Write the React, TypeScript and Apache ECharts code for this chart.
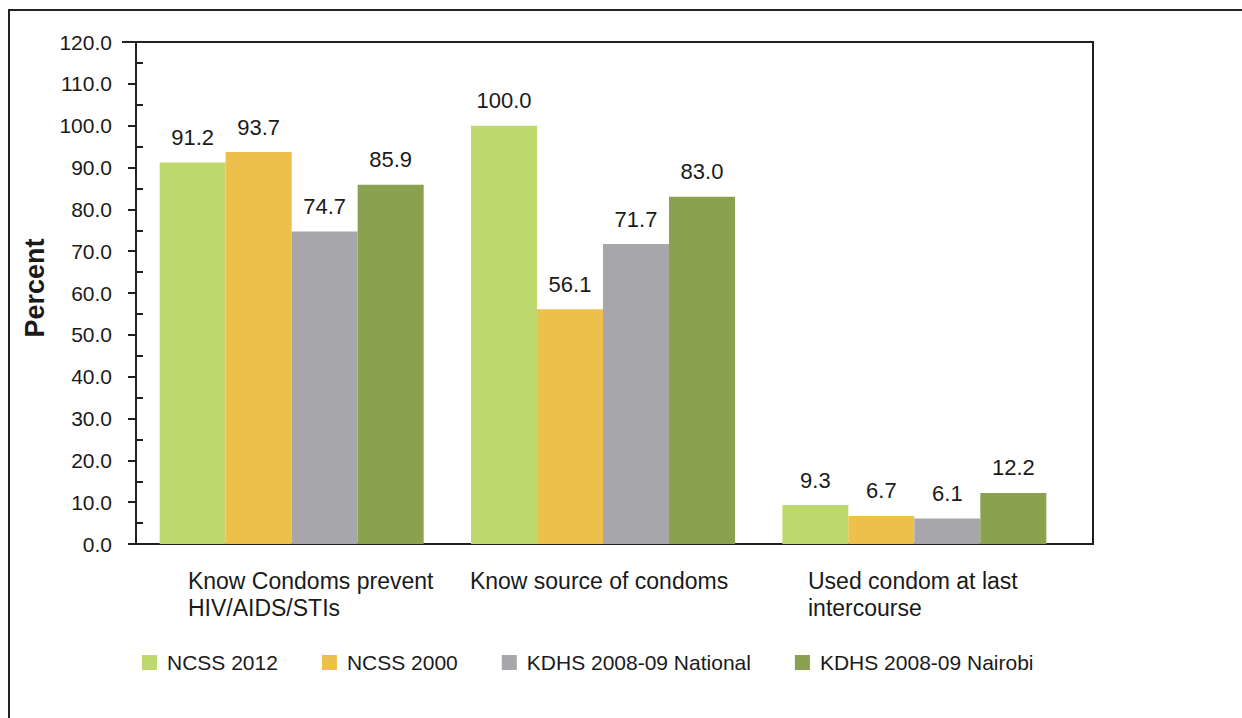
import { useEffect, useRef } from "react";
import * as echarts from "echarts";

const categories = [
  "Know Condoms prevent\nHIV/AIDS/STIs",
  "Know source of condoms",
  "Used condom at last\nintercourse",
];
const seriesNames = ["NCSS 2012", "NCSS 2000", "KDHS 2008-09 National", "KDHS 2008-09 Nairobi"];
const ncss2012 = [91.2, 100.0, 9.3];
const ncss2000 = [93.7, 56.1, 6.7];
const kdhsNational = [74.7, 71.7, 6.1];
const kdhsNairobi = [85.9, 83.0, 12.2];
const minorTickValues = [5, 15, 25, 35, 45, 55, 65, 75, 85, 95, 105, 115];
const yMin = 0;
const yMax = 120;
const yInterval = 10;

const colors = ["#BDD96E", "#EDC04C", "#A7A6AA", "#8AA150"];
const FONT = "'Liberation Sans', Arial, Helvetica, sans-serif";
const INK = "#1a1a1a";
const LINE = "#231f20";

export default function App() {
  const ref = useRef<HTMLDivElement>(null);
  useEffect(() => {
    if (!ref.current) return;
    const chart = echarts.init(ref.current, undefined, { renderer: "svg" });
    const allSeries = [ncss2012, ncss2000, kdhsNational, kdhsNairobi];
    const pads = [[0, 0, 0, 38], [0, 8, 0, 0], [0, 3, 0, 0]];
    const rich: Record<string, any> = {};
    pads.forEach((p, i) => {
      rich["c" + i] = { padding: p, align: "left", fontSize: 23, lineHeight: 27, color: INK, fontFamily: FONT };
    });
    chart.setOption({
      animation: false,
      backgroundColor: "#ffffff",
      textStyle: { fontFamily: FONT },
      color: colors,
      grid: { left: 136, top: 42, right: 172, bottom: 174, containLabel: false },
      legend: {
        left: 142,
        top: 652,
        padding: 0,
        itemWidth: 15,
        itemHeight: 15,
        itemGap: 44,
        icon: "rect",
        textStyle: { fontSize: 21, color: INK, fontFamily: FONT, padding: [0, 0, 0, 5] },
        data: seriesNames,
      },
      xAxis: {
        type: "category",
        data: categories,
        axisLine: { lineStyle: { color: LINE, width: 2 } },
        axisTick: { show: false },
        axisLabel: {
          interval: 0,
          margin: 23,
          align: "center",
          formatter: (value: string, index: number) =>
            value
              .split("\n")
              .map((l) => `{c${index}|${l}}`)
              .join("\n"),
          rich,
        },
      },
      yAxis: [
        {
          type: "value",
          min: yMin,
          max: yMax,
          interval: yInterval,
          name: "Percent",
          nameLocation: "middle",
          nameRotate: 90,
          nameGap: 88,
          nameTextStyle: { fontSize: 27, fontWeight: "bold", color: INK, fontFamily: FONT, padding: [0, 0, 0, 10] },
          axisLine: { show: true, lineStyle: { color: LINE, width: 2 } },
          axisTick: { show: true, inside: false, length: 8, lineStyle: { color: LINE, width: 2 } },
          axisLabel: {
            margin: 24,
            fontSize: 21,
            color: INK,
            fontFamily: FONT,
            formatter: (v: number) => v.toFixed(1),
          },
          splitLine: { show: false },
        },
        {
          type: "value",
          position: "left",
          min: yMin,
          max: yMax,
          interval: yInterval,
          axisLine: { show: false },
          axisTick: {
            show: true,
            inside: true,
            length: 7,
            customValues: minorTickValues,
            lineStyle: { color: LINE, width: 2 },
          },
          axisLabel: { show: false },
          splitLine: { show: false },
        },
      ],
      series: allSeries.map((d, i) => ({
        name: seriesNames[i],
        type: "bar",
        data: d,
        barWidth: 66,
        barGap: "0%",
        itemStyle: { color: colors[i] },
        label: {
          show: true,
          position: "top",
          distance: 14,
          fontSize: 22,
          color: INK,
          fontFamily: FONT,
          formatter: (p: any) => Number(p.value).toFixed(1),
        },
      })),
      graphic: [
        { type: "line", shape: { x1: 8, y1: 10, x2: 1242, y2: 10 }, style: { stroke: "#222", lineWidth: 2 } },
        { type: "line", shape: { x1: 9, y1: 10, x2: 9, y2: 718 }, style: { stroke: "#222", lineWidth: 2 } },
        { type: "line", shape: { x1: 122, y1: 42, x2: 1094, y2: 42 }, style: { stroke: LINE, lineWidth: 2 } },
        { type: "line", shape: { x1: 1093, y1: 42, x2: 1093, y2: 545 }, style: { stroke: LINE, lineWidth: 2 } },
        { type: "line", shape: { x1: 1068, y1: 544, x2: 1094, y2: 544 }, style: { stroke: LINE, lineWidth: 2 } },
      ],
    });
    return () => chart.dispose();
  }, []);
  return (
    <div
      ref={ref}
      style={{ position: "absolute", left: 0, top: 0, width: 1242, height: 718, background: "#fff" }}
    />
  );
}
